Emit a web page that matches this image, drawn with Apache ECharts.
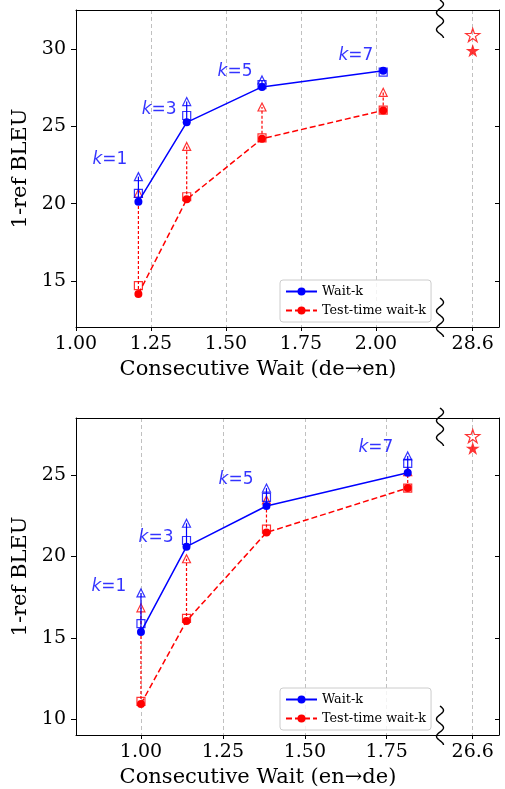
<!DOCTYPE html>
<html><head><meta charset="utf-8">
<script src="https://cdn.jsdelivr.net/npm/echarts@6/dist/echarts.min.js"></script>
<style>html,body{margin:0;padding:0;background:#fff}#c{width:505px;height:789px}</style>
</head><body><div id="c"></div>
<script>
// ---------- data: de→en (top panel) ----------
const kNums = [1, 3, 5, 7];
const deX = [1.208, 1.369, 1.62, 2.024];
const deWaitK = [20.13, 25.26, 27.55, 28.6];
const deWaitKSq = [20.67, 25.7, 27.7, 28.5];
const deWaitKTri = [21.75, 26.6, 28.0, null];
const deTest = [14.16, 20.28, 24.2, 26.03];
const deTestSq = [14.7, 20.45, 24.25, 26.05];
const deTestTri = [20.67, 23.7, 26.25, 27.2];
const deLabelX = [1.113, 1.277, 1.53, 1.933];
const deLabelY = [22.83, 26.06, 28.51, 29.55];
const deStarX = 28.6;
const deStarHollow = 30.9;
const deStarFilled = 29.9;
const deXTicks = [1.0, 1.25, 1.5, 1.75, 2.0];
const deYTicks = [15, 20, 25, 30];

// ---------- data: en→de (bottom panel) ----------
const enX = [1.0, 1.139, 1.383, 1.814];
const enWaitK = [15.37, 20.6, 23.1, 25.14];
const enWaitKSq = [15.88, 20.98, 23.63, 25.72];
const enWaitKTri = [17.76, 22.04, 24.2, 26.17];
const enTest = [10.95, 16.04, 21.47, 24.2];
const enTestSq = [11.1, 16.2, 21.68, 24.2];
const enTestTri = [16.85, 19.86, 23.47, 25.2];
const enLabelX = [0.902, 1.046, 1.29, 1.717];
const enLabelY = [18.13, 21.17, 24.75, 26.66];
const enStarX = 26.6;
const enStarHollow = 27.39;
const enStarFilled = 26.64;
const enXTicks = [1.0, 1.25, 1.5, 1.75];
const enYTicks = [10, 15, 20, 25];

const BLUE = '#0000ff', RED = '#ff0000';
const SERIF = 'DejaVu Serif';

const panels = [
  { top: 10, height: 317, xMin: 1.0, xMax: 2.2133, yMin: 12.03, yMax: 32.52,
    x: deX, w: deWaitK, wSq: deWaitKSq, wTri: deWaitKTri, t: deTest, tSq: deTestSq, tTri: deTestTri,
    lx: deLabelX, ly: deLabelY, starX: deStarX, starH: deStarHollow, starF: deStarFilled,
    xTicks: deXTicks, yTicks: deYTicks, title: 'Consecutive Wait (de\u2192en)' },
  { top: 418, height: 317, xMin: 0.8018, xMax: 1.9125, yMin: 9.04, yMax: 28.5,
    x: enX, w: enWaitK, wSq: enWaitKSq, wTri: enWaitKTri, t: enTest, tSq: enTestSq, tTri: enTestTri,
    lx: enLabelX, ly: enLabelY, starX: enStarX, starH: enStarHollow, starF: enStarFilled,
    xTicks: enXTicks, yTicks: enYTicks, title: 'Consecutive Wait (en\u2192de)' }
];
const LEFT = 76, MAINW = 364, RIGHTW = 59;

function starPath() {
  const pts = [];
  for (let i = 0; i < 10; i++) {
    const r = i % 2 ? 0.382 : 1;
    const a = -Math.PI / 2 + i * Math.PI / 5;
    pts.push((50 + 50 * r * Math.cos(a)).toFixed(2) + ',' + (50 + 50 * r * Math.sin(a)).toFixed(2));
  }
  return 'path://M' + pts.join('L') + 'Z';
}
const STAR = starPath();

const axisLine = { show: true, onZero: false, lineStyle: { color: '#000', width: 1 } };
const gridLine = { show: true, lineStyle: { color: '#c0c0c0', width: 1, type: [4, 3] } };

const grid = [], xAxis = [], yAxis = [], series = [], legend = [], graphic = [];

function vline(color, dash) {
  return function (params, api) {
    const a = api.coord([api.value(0), api.value(1)]);
    const b = api.coord([api.value(0), api.value(2)]);
    return { type: 'line', shape: { x1: a[0], y1: a[1], x2: b[0], y2: b[1] },
      style: { stroke: color, lineWidth: 1.2, lineDash: dash } };
  };
}
function wiggle(x, y0, y1) {
  const pts = [];
  const n = 60;
  for (let i = 0; i <= n; i++) {
    const t = i / n;
    pts.push([x + 3.5 * Math.sin(t * Math.PI * 4.5), y0 + t * (y1 - y0)]);
  }
  return { type: 'polyline', z: 100, shape: { points: pts }, style: { stroke: '#000', lineWidth: 1.4, fill: null } };
}

panels.forEach((p, pi) => {
  const gMain = 2 * pi, gRight = 2 * pi + 1;
  grid.push({ left: LEFT, top: p.top, width: MAINW, height: p.height });
  grid.push({ left: LEFT + MAINW, top: p.top, width: RIGHTW, height: p.height });
  const xb = 4 * pi, xr = 4 * pi + 2, ym = 2 * pi, yr = 2 * pi + 1;
  xAxis.push({
    type: 'value', gridIndex: gMain, position: 'bottom', min: p.xMin, max: p.xMax,
    axisLine: axisLine,
    axisTick: { show: true, length: 4, customValues: p.xTicks, lineStyle: { color: '#000' } },
    axisLabel: { customValues: p.xTicks, formatter: v => v.toFixed(2), fontFamily: SERIF, fontSize: 19, color: '#000', margin: 8 },
    splitLine: gridLine,
    name: p.title, nameLocation: 'middle', nameGap: 32,
    nameTextStyle: { fontFamily: SERIF, fontSize: 21, color: '#000' }
  });
  xAxis.push({ type: 'value', gridIndex: gMain, position: 'top', min: p.xMin, max: p.xMax,
    axisLine: axisLine, axisTick: { show: false }, axisLabel: { show: false }, splitLine: { show: false } });
  xAxis.push({
    type: 'value', gridIndex: gRight, position: 'bottom', min: p.starX - 0.555, max: p.starX + 0.445,
    axisLine: axisLine,
    axisTick: { show: true, length: 4, customValues: [p.starX], lineStyle: { color: '#000' } },
    axisLabel: { customValues: [p.starX], formatter: v => v.toFixed(1), fontFamily: SERIF, fontSize: 19, color: '#000', margin: 8 },
    splitLine: gridLine
  });
  xAxis.push({ type: 'value', gridIndex: gRight, position: 'top', min: p.starX - 0.555, max: p.starX + 0.445,
    axisLine: axisLine, axisTick: { show: false }, axisLabel: { show: false }, splitLine: { show: false } });
  yAxis.push({
    type: 'value', gridIndex: gMain, position: 'left', min: p.yMin, max: p.yMax,
    axisLine: axisLine,
    axisTick: { show: true, length: 5, customValues: p.yTicks, lineStyle: { color: '#000' } },
    axisLabel: { customValues: p.yTicks, fontFamily: SERIF, fontSize: 19, color: '#000', margin: 10 },
    splitLine: { show: false },
    name: '1-ref BLEU', nameLocation: 'middle', nameGap: 38,
    nameTextStyle: { fontFamily: SERIF, fontSize: 21, color: '#000' }
  });
  yAxis.push({
    type: 'value', gridIndex: gRight, position: 'right', min: p.yMin, max: p.yMax,
    axisLine: axisLine,
    axisTick: { show: true, inside: true, length: 4, customValues: p.yTicks, lineStyle: { color: '#000' } },
    axisLabel: { show: false }, splitLine: { show: false }
  });

  const pairs = (ys) => p.x.map((x, i) => ys[i] == null ? null : [x, ys[i]]).filter(d => d);
  const common = { xAxisIndex: xb, yAxisIndex: ym };

  // vertical connectors
  series.push(Object.assign({ type: 'custom', z: 2, silent: true,
    renderItem: vline(RED, [3, 2]),
    data: p.x.map((x, i) => [x, p.t[i], p.tTri[i]]) }, common));
  series.push(Object.assign({ type: 'custom', z: 5, silent: true,
    renderItem: vline(BLUE, null),
    data: p.x.map((x, i) => [x, p.w[i], p.wTri[i] == null ? p.wSq[i] : p.wTri[i]]) }, common));

  // test-time wait-k (red)
  series.push(Object.assign({ type: 'line', name: 'Test-time wait-k', z: 3,
    data: pairs(p.t), symbol: 'circle', symbolSize: 8,
    itemStyle: { color: RED }, lineStyle: { color: RED, width: 1.5, type: [6, 3] } }, common));
  series.push(Object.assign({ type: 'scatter', z: 4, symbol: 'rect', symbolSize: 8,
    data: pairs(p.tSq), itemStyle: { color: 'rgba(0,0,0,0)', borderColor: RED, borderWidth: 1.2 } }, common));
  series.push(Object.assign({ type: 'scatter', z: 4, symbol: 'triangle', symbolSize: 8,
    data: pairs(p.tTri), itemStyle: { color: 'rgba(0,0,0,0)', borderColor: RED, borderWidth: 1.2 } }, common));

  // wait-k (blue)
  series.push(Object.assign({ type: 'line', name: 'Wait-k', z: 6,
    data: pairs(p.w), symbol: 'circle', symbolSize: 8,
    itemStyle: { color: BLUE }, lineStyle: { color: BLUE, width: 1.5 } }, common));
  series.push(Object.assign({ type: 'scatter', z: 7, symbol: 'rect', symbolSize: 8,
    data: pairs(p.wSq), itemStyle: { color: 'rgba(0,0,0,0)', borderColor: BLUE, borderWidth: 1.2 } }, common));
  series.push(Object.assign({ type: 'scatter', z: 7, symbol: 'triangle', symbolSize: 8,
    data: pairs(p.wTri), itemStyle: { color: 'rgba(0,0,0,0)', borderColor: BLUE, borderWidth: 1.2 } }, common));

  // k labels
  series.push(Object.assign({ type: 'scatter', z: 8, symbolSize: 1, silent: true,
    itemStyle: { color: 'rgba(0,0,0,0)' },
    data: p.lx.map((x, i) => [x, p.ly[i], kNums[i]]),
    label: { show: true, position: 'inside',
      formatter: prm => '{i|k}{n|=' + prm.value[2] + '}',
      rich: {
        i: { fontFamily: 'DejaVu Sans', fontStyle: 'italic', fontSize: 17, color: BLUE },
        n: { fontFamily: 'DejaVu Sans', fontSize: 17, color: BLUE }
      } } }, common));

  // stars (right panel)
  series.push({ type: 'scatter', xAxisIndex: xr, yAxisIndex: yr, z: 5, symbol: STAR, symbolKeepAspect: true,
    symbolSize: 14, data: [[p.starX, p.starH]],
    itemStyle: { color: 'rgba(0,0,0,0)', borderColor: RED, borderWidth: 1.2 } });
  series.push({ type: 'scatter', xAxisIndex: xr, yAxisIndex: yr, z: 5, symbol: STAR, symbolKeepAspect: true,
    symbolSize: 14, data: [[p.starX, p.starF]], itemStyle: { color: RED } });

  legend.push({
    data: ['Wait-k', 'Test-time wait-k'], orient: 'vertical', left: 280, top: p.top + 270,
    itemWidth: 31, itemHeight: 10, itemGap: 6,
    padding: [5, 5, 5, 5], borderColor: '#cccccc', borderWidth: 1, borderRadius: 3,
    backgroundColor: 'rgba(255,255,255,0.8)', selectedMode: false,
    textStyle: { fontFamily: SERIF, fontSize: 12.8, color: '#000' }
  });

  const bx = LEFT + MAINW;
  graphic.push(wiggle(bx, p.top - 10, p.top + 28));
  graphic.push(wiggle(bx, p.top + p.height - 29, p.top + p.height + 10));
});

const chart = echarts.init(document.getElementById('c'), null, { renderer: 'canvas' });
chart.setOption({ animation: false, backgroundColor: '#fff', grid, xAxis, yAxis, series, legend, graphic });
</script></body></html>
